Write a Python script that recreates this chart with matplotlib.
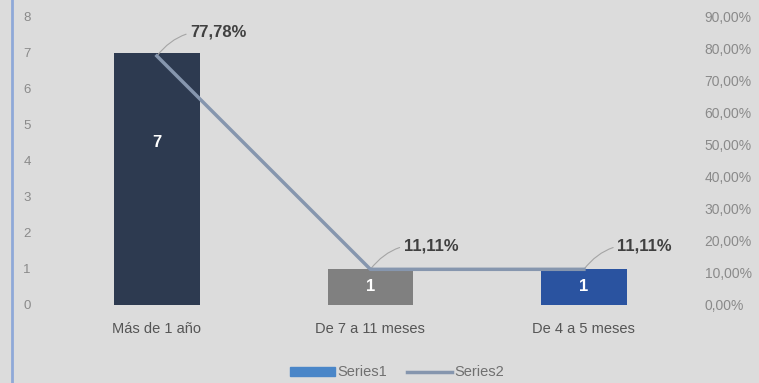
import matplotlib.pyplot as plt
from matplotlib.lines import Line2D
from matplotlib.patches import Patch

categories = ['Más de 1 año', 'De 7 a 11 meses', 'De 4 a 5 meses']
counts = [7, 1, 1]
count_label_y = [4.5, 0.5, 0.5]
percents = [0.7778, 0.1111, 0.1111]
pct_labels = ['77,78%', '11,11%', '11,11%']
left_ticks = [0, 1, 2, 3, 4, 5, 6, 7, 8]
right_ticks = [0, 0.1, 0.2, 0.3, 0.4, 0.5, 0.6, 0.7, 0.8, 0.9]

bar_colors = ['#2d3a50', '#808080', '#2a53a0']
line_color = '#8696ae'
bg = '#dcdcdc'
tick_color = '#8a8a8a'

plt.rcParams['font.family'] = ['Liberation Sans', 'DejaVu Sans']

fig = plt.figure(figsize=(7.59, 3.83), dpi=100, facecolor=bg)
ax = fig.add_axes([0.066, 0.204, 0.844, 0.752])
ax.set_facecolor(bg)
x = list(range(len(categories)))

ax.bar(x, counts, width=0.4, color=bar_colors, zorder=2)
for xi, c, ly in zip(x, counts, count_label_y):
    ax.text(xi, ly, str(c), ha='center', va='center',
            color='white', fontsize=12, fontweight='bold', zorder=3)

ax.set_xlim(-0.5, 2.5)
ax.set_ylim(0, 8)
ax.set_yticks(left_ticks)
ax.set_xticks(x)
ax.set_xticklabels(categories)
ax.tick_params(axis='y', length=0, colors=tick_color, labelsize=9.5, pad=14)
ax.tick_params(axis='x', length=0, colors='#555555', labelsize=10.5, pad=12)
for s in ax.spines.values():
    s.set_visible(False)

ax2 = ax.twinx()
ax2.set_ylim(0, 0.9)
ax2.set_yticks(right_ticks)
ax2.set_yticklabels([f'{t * 100:.2f}%'.replace('.', ',') for t in right_ticks])
ax2.tick_params(axis='y', length=0, colors=tick_color, labelsize=10, pad=10)
for s in ax2.spines.values():
    s.set_visible(False)
ax2.plot(x, percents, color=line_color, linewidth=2.5, zorder=4)

for xi, p, lab in zip(x, percents, pct_labels):
    ax2.annotate(lab, xy=(xi, p), xytext=(24, 17), textcoords='offset points',
                 ha='left', va='center', fontsize=12, fontweight='bold',
                 color='#404040',
                 arrowprops=dict(arrowstyle='-', color='#a5a5a5', lw=0.8,
                                 connectionstyle='arc3,rad=0.3',
                                 shrinkA=1, shrinkB=0))

fig.add_artist(Line2D([0.016, 0.016], [0, 1], color='#8fa9d8', linewidth=2))

handles = [Patch(color='#4a86c8', label='Series1'),
           Line2D([0], [0], color=line_color, linewidth=2.5, label='Series2')]
leg = fig.legend(handles=handles, loc='lower center', bbox_to_anchor=(0.523, -0.025),
                 ncol=2, frameon=False, fontsize=10.5, handlelength=3.1,
                 handleheight=0.6, columnspacing=1.4, handletextpad=0.15)
for t in leg.get_texts():
    t.set_color('#707070')

fig.savefig('out.png', dpi=100, facecolor=bg)
